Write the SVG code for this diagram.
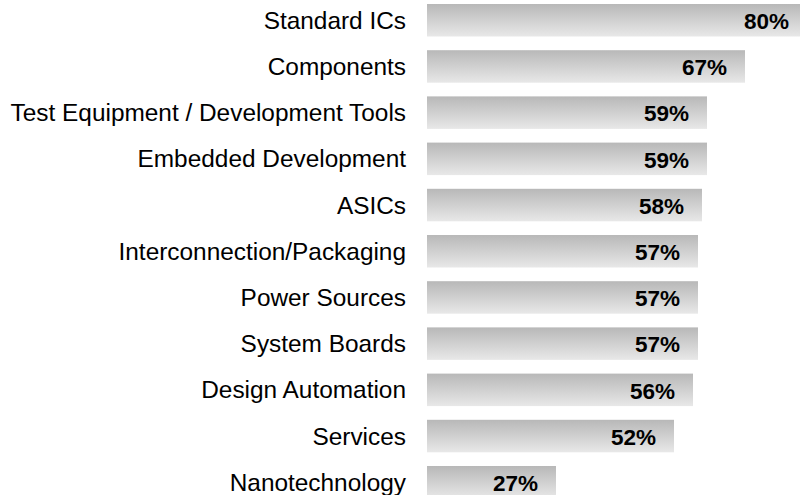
<svg xmlns="http://www.w3.org/2000/svg" width="800" height="495" viewBox="0 0 800 495">
<defs>
<linearGradient id="g" x1="0" y1="0" x2="0" y2="1">
<stop offset="0" stop-color="#b8b8b8"/>
<stop offset="1" stop-color="#e8e8e8"/>
</linearGradient>
<style>
.bar{fill:url(#g)}
.lbl{font-family:"Liberation Sans",Arial,sans-serif;font-size:24.4px;fill:#000;text-anchor:end}
.val{font-family:"Liberation Sans",Arial,sans-serif;font-size:22.5px;font-weight:bold;fill:#000;text-anchor:end}
</style>
</defs>
<rect width="800" height="495" fill="#fff"/>
<g id="bar-standard-ics"><rect class="bar" x="427" y="4" width="379" height="32.5"/><text class="lbl" x="406" y="28.8">Standard ICs</text><text class="val" x="789" y="28.9">80%</text></g>
<g id="bar-components"><rect class="bar" x="427" y="50.2" width="318" height="32.5"/><text class="lbl" x="406" y="75">Components</text><text class="val" x="727" y="75.1">67%</text></g>
<g id="bar-test-equipment"><rect class="bar" x="427" y="96.4" width="280" height="32.5"/><text class="lbl" x="406" y="121.2">Test Equipment / Development Tools</text><text class="val" x="689" y="121.3">59%</text></g>
<g id="bar-embedded"><rect class="bar" x="427" y="142.6" width="280" height="32.5"/><text class="lbl" x="406" y="167.4">Embedded Development</text><text class="val" x="689" y="167.5">59%</text></g>
<g id="bar-asics"><rect class="bar" x="427" y="188.8" width="275" height="32.5"/><text class="lbl" x="406" y="213.8">ASICs</text><text class="val" x="684" y="213.6">58%</text></g>
<g id="bar-interconnection"><rect class="bar" x="427" y="235" width="271" height="32.5"/><text class="lbl" x="406" y="259.8">Interconnection/Packaging</text><text class="val" x="680" y="259.9">57%</text></g>
<g id="bar-power"><rect class="bar" x="427" y="281.2" width="271" height="32.5"/><text class="lbl" x="406" y="306">Power Sources</text><text class="val" x="680" y="306.1">57%</text></g>
<g id="bar-system-boards"><rect class="bar" x="427" y="327.4" width="271" height="32.5"/><text class="lbl" x="406" y="352.2">System Boards</text><text class="val" x="680" y="352.3">57%</text></g>
<g id="bar-design-automation"><rect class="bar" x="427" y="373.6" width="266" height="32.5"/><text class="lbl" x="406" y="398.4">Design Automation</text><text class="val" x="675" y="398.5">56%</text></g>
<g id="bar-services"><rect class="bar" x="427" y="419.8" width="247" height="32.5"/><text class="lbl" x="406" y="444.6">Services</text><text class="val" x="656" y="444.7">52%</text></g>
<g id="bar-nanotechnology"><rect class="bar" x="427" y="466" width="129" height="32.5"/><text class="lbl" x="406" y="490.8">Nanotechnology</text><text class="val" x="538" y="490.9">27%</text></g>
<g id="connectors"/>
</svg>
